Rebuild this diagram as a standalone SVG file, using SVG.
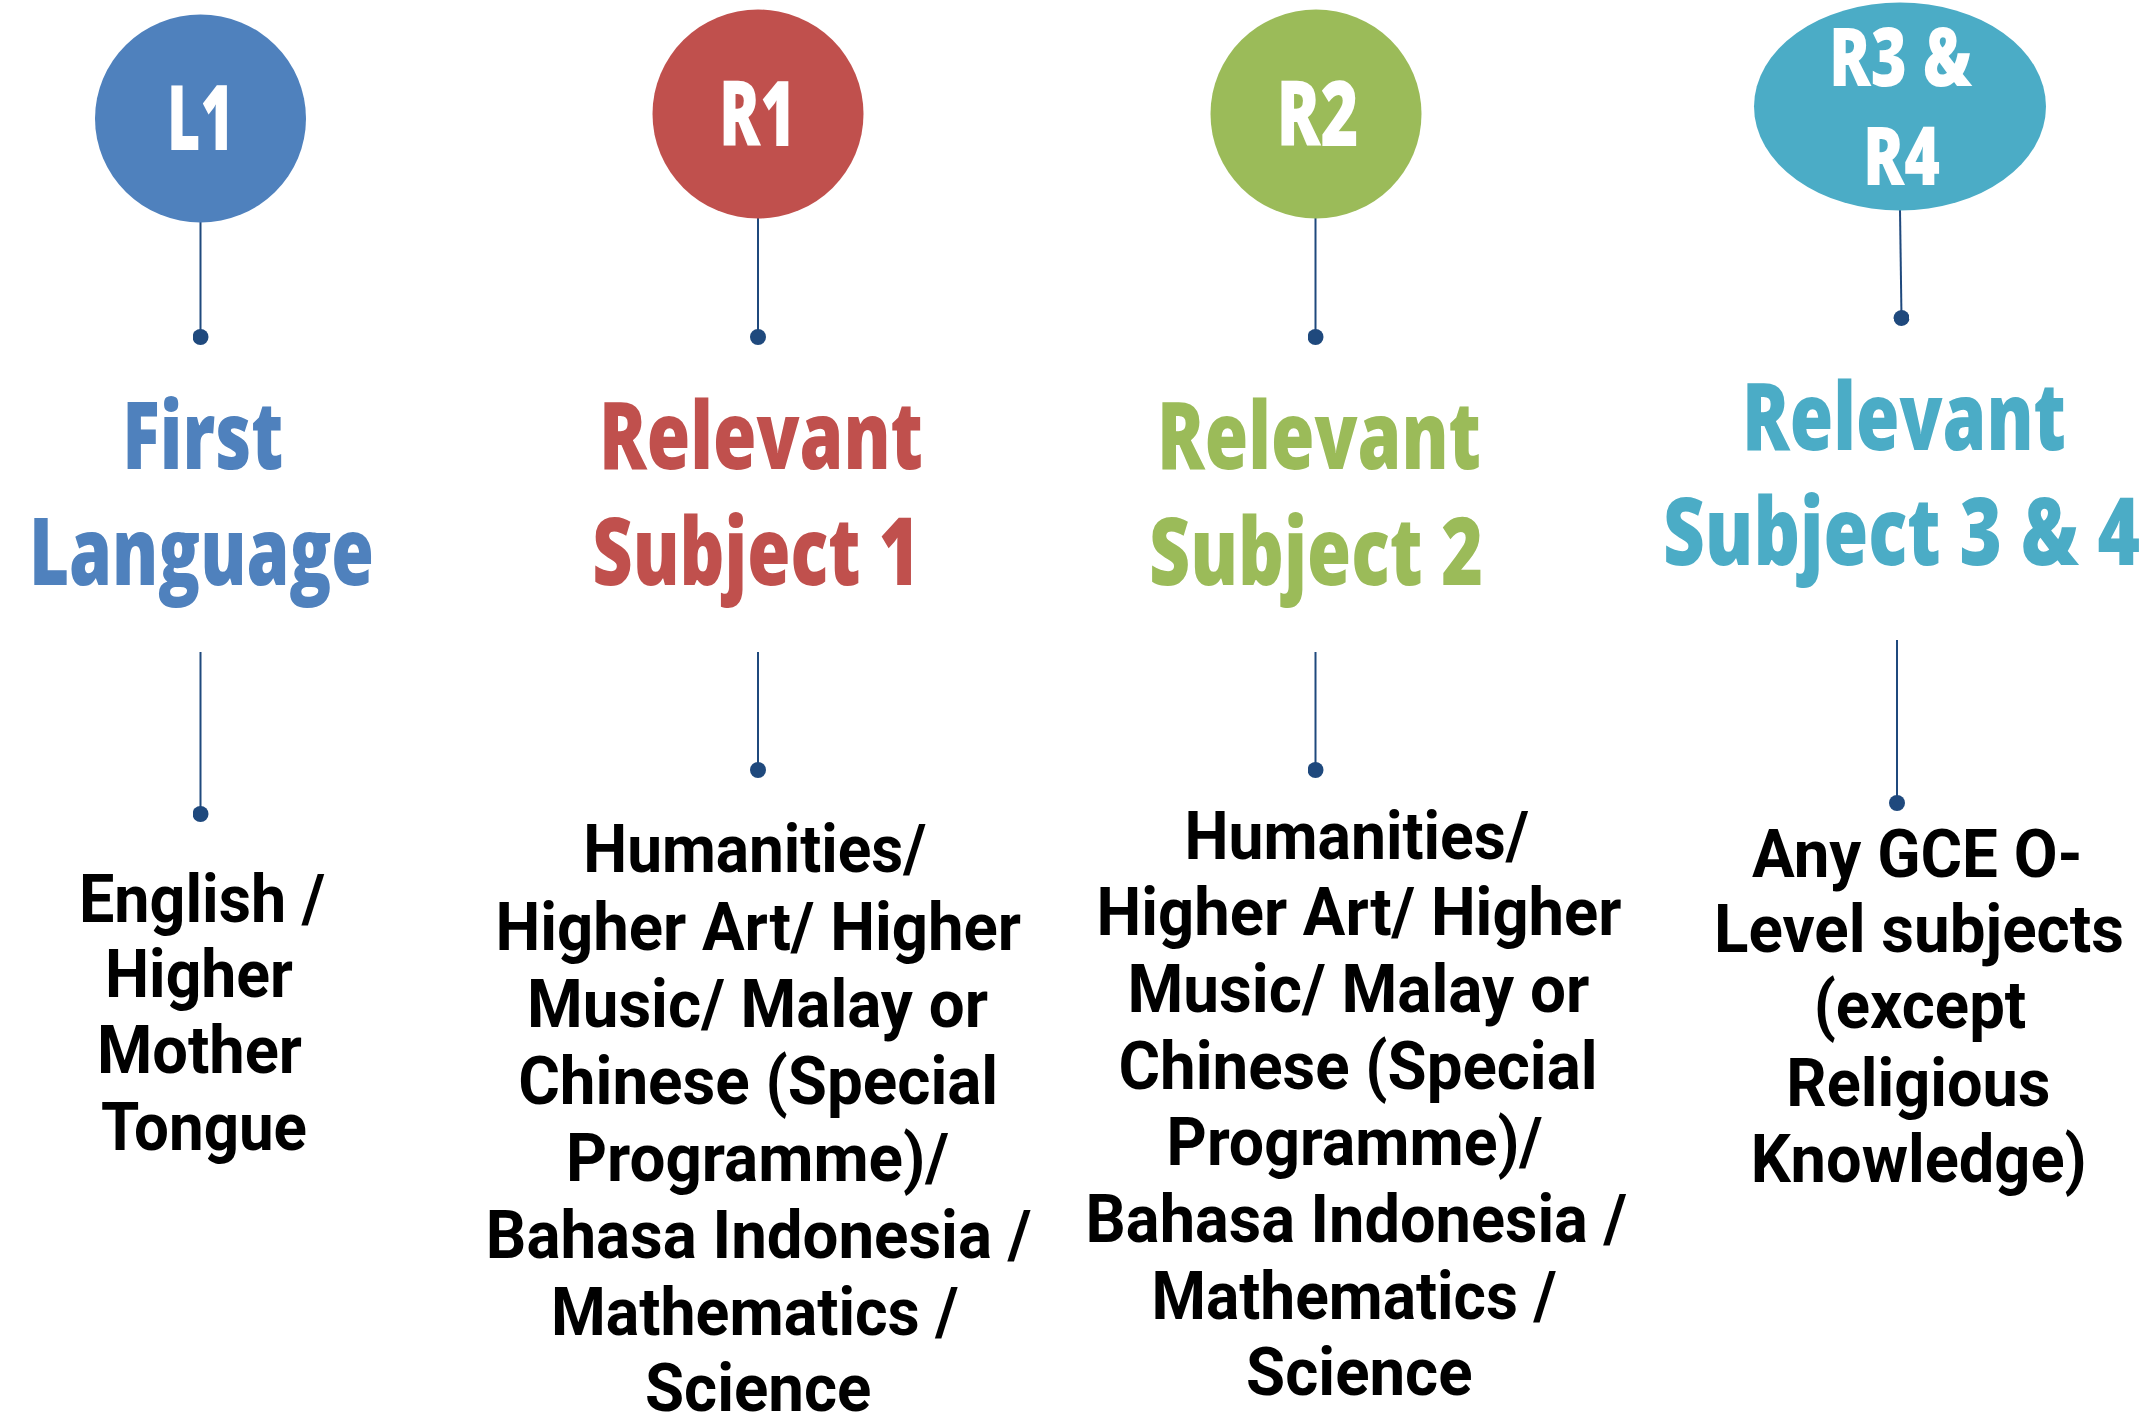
<svg xmlns="http://www.w3.org/2000/svg" width="2152" height="1415" viewBox="0 0 2152 1415">
<defs>
<marker id="dot" viewBox="-10 -10 20 20" markerWidth="16" markerHeight="16" markerUnits="userSpaceOnUse" refX="0" refY="0" orient="auto">
<circle cx="0" cy="0" r="10" fill="#1F497D"/>
</marker>
<style>
.bg{fill:#FFFFFF}
.conn{stroke:#1F497D;stroke-width:2;fill:none;marker-end:url(#dot)}
.lbl{font-family:"Open Sans","Liberation Sans",sans-serif;font-weight:800;fill:#FFFFFF;text-anchor:middle}
.ttl{font-family:"Open Sans","Liberation Sans",sans-serif;font-weight:800;font-size:94px;text-anchor:middle}
.body{font-family:Roboto,"Liberation Sans",sans-serif;font-weight:700;font-size:67px;fill:#000000;text-anchor:middle}
.c1{fill:#4F81BD}
.c2{fill:#C0504D}
.c3{fill:#9BBB59}
.c4{fill:#4BACC6}
</style>
</defs>
<rect class="bg" x="0" y="0" width="2152" height="1415"/>

<g id="connectors">
<line class="conn" x1="200.5" y1="222" x2="200.5" y2="337"/>
<line class="conn" x1="758" y1="218" x2="758" y2="337"/>
<line class="conn" x1="1315.5" y1="218" x2="1315.5" y2="337"/>
<line class="conn" x1="1900" y1="210" x2="1901.5" y2="318"/>
<line class="conn" x1="200.5" y1="652" x2="200.5" y2="814"/>
<line class="conn" x1="758" y1="652" x2="758" y2="770"/>
<line class="conn" x1="1315.5" y1="652" x2="1315.5" y2="770"/>
<line class="conn" x1="1897" y1="640" x2="1897" y2="803"/>
</g>

<g id="node-l1">
<ellipse class="c1" cx="200.5" cy="118.5" rx="105.5" ry="104"/>
<text class="lbl" x="200.5" y="150" font-size="91" textLength="67" lengthAdjust="spacingAndGlyphs">L1</text>
</g>
<g id="node-r1">
<ellipse class="c2" cx="758" cy="114" rx="105.5" ry="104.5"/>
<text class="lbl" x="757.5" y="146" font-size="91" textLength="77" lengthAdjust="spacingAndGlyphs">R1</text>
</g>
<g id="node-r2">
<ellipse class="c3" cx="1316" cy="114" rx="105.5" ry="104.5"/>
<text class="lbl" x="1317.5" y="146" font-size="91" textLength="82" lengthAdjust="spacingAndGlyphs">R2</text>
</g>
<g id="node-r34">
<ellipse class="c4" cx="1900" cy="106.5" rx="146" ry="104"/>
<text class="lbl" x="1900.5" y="86" font-size="81" textLength="143" lengthAdjust="spacingAndGlyphs">R3 &amp;</text>
<text class="lbl" x="1901.5" y="185" font-size="81" textLength="77" lengthAdjust="spacingAndGlyphs">R4</text>
</g>

<g id="title-l1">
<text class="ttl c1" x="202.8" y="468.5" textLength="161" lengthAdjust="spacingAndGlyphs">First</text>
<text class="ttl c1" x="201.4" y="584.5" textLength="345" lengthAdjust="spacingAndGlyphs">Language</text>
</g>
<g id="title-r1">
<text class="ttl c2" x="761" y="468.5" textLength="324" lengthAdjust="spacingAndGlyphs">Relevant</text>
<text class="ttl c2" x="756" y="584.5" textLength="327.5" lengthAdjust="spacingAndGlyphs">Subject 1</text>
</g>
<g id="title-r2">
<text class="ttl c3" x="1319" y="468.5" textLength="324" lengthAdjust="spacingAndGlyphs">Relevant</text>
<text class="ttl c3" x="1316" y="584.5" textLength="334" lengthAdjust="spacingAndGlyphs">Subject 2</text>
</g>
<g id="title-r34">
<text class="ttl c4" x="1904" y="450" textLength="324" lengthAdjust="spacingAndGlyphs">Relevant</text>
<text class="ttl c4" x="1901.5" y="565" textLength="477" lengthAdjust="spacingAndGlyphs">Subject 3 &amp; 4</text>
</g>

<g id="body-l1">
<text class="body" x="202" y="922" textLength="246" lengthAdjust="spacingAndGlyphs">English /</text>
<text class="body" x="199" y="997" textLength="188" lengthAdjust="spacingAndGlyphs">Higher</text>
<text class="body" x="199.5" y="1073" textLength="205" lengthAdjust="spacingAndGlyphs">Mother</text>
<text class="body" x="204" y="1150" textLength="206" lengthAdjust="spacingAndGlyphs">Tongue</text>
</g>
<g id="body-r1">
<text class="body" x="754.8" y="872.3" textLength="343" lengthAdjust="spacingAndGlyphs">Humanities/</text>
<text class="body" x="758.2" y="950" textLength="525.6" lengthAdjust="spacingAndGlyphs">Higher Art/ Higher</text>
<text class="body" x="757.5" y="1026.5" textLength="461" lengthAdjust="spacingAndGlyphs">Music/ Malay or</text>
<text class="body" x="758.2" y="1103.7" textLength="480" lengthAdjust="spacingAndGlyphs">Chinese (Special</text>
<text class="body" x="757.5" y="1180.8" textLength="383" lengthAdjust="spacingAndGlyphs">Programme)/</text>
<text class="body" x="758.6" y="1258" textLength="545.5" lengthAdjust="spacingAndGlyphs">Bahasa Indonesia /</text>
<text class="body" x="754.8" y="1335" textLength="407.6" lengthAdjust="spacingAndGlyphs">Mathematics /</text>
<text class="body" x="758.2" y="1411" textLength="226.4" lengthAdjust="spacingAndGlyphs">Science</text>
</g>
<g id="body-r2">
<text class="body" x="1356.7" y="859" textLength="344.5" lengthAdjust="spacingAndGlyphs">Humanities/</text>
<text class="body" x="1359" y="935" textLength="525" lengthAdjust="spacingAndGlyphs">Higher Art/ Higher</text>
<text class="body" x="1358.4" y="1011.7" textLength="462" lengthAdjust="spacingAndGlyphs">Music/ Malay or</text>
<text class="body" x="1358" y="1088.8" textLength="479" lengthAdjust="spacingAndGlyphs">Chinese (Special</text>
<text class="body" x="1354.6" y="1165.4" textLength="376" lengthAdjust="spacingAndGlyphs">Programme)/</text>
<text class="body" x="1356.3" y="1242" textLength="541.4" lengthAdjust="spacingAndGlyphs">Bahasa Indonesia /</text>
<text class="body" x="1354" y="1319" textLength="405" lengthAdjust="spacingAndGlyphs">Mathematics /</text>
<text class="body" x="1359.3" y="1395.3" textLength="226.4" lengthAdjust="spacingAndGlyphs">Science</text>
</g>
<g id="body-r34">
<text class="body" x="1917.3" y="877.3" textLength="330.7" lengthAdjust="spacingAndGlyphs">Any GCE O-</text>
<text class="body" x="1919" y="952.4" textLength="410" lengthAdjust="spacingAndGlyphs">Level subjects</text>
<text class="body" x="1920" y="1028" textLength="212.7" lengthAdjust="spacingAndGlyphs">(except</text>
<text class="body" x="1918.3" y="1106" textLength="264" lengthAdjust="spacingAndGlyphs">Religious</text>
<text class="body" x="1918.7" y="1182.3" textLength="336" lengthAdjust="spacingAndGlyphs">Knowledge)</text>
</g>
</svg>
